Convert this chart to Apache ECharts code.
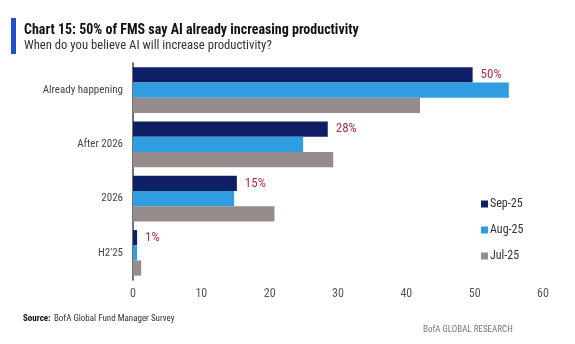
<!DOCTYPE html>
<html><head><meta charset="utf-8">
<script src="https://cdn.jsdelivr.net/npm/echarts@6/dist/echarts.min.js"></script>
<style>html,body{margin:0;padding:0;background:#fff}#c{width:575px;height:344px}</style>
</head><body><div id="c"></div>
<script>
const categories = ["Already happening", "After 2026", "2026", "H2'25"];
const seriesNames = ["Sep-25", "Aug-25", "Jul-25"];
const sep25 = [49.7, 28.5, 15.2, 0.6];
const aug25 = [55, 24.9, 14.8, 0.6];
const jul25 = [42, 29.3, 20.7, 1.2];
const sepLabels = ["50%", "28%", "15%", "1%"];
const xTicks = [0, 10, 20, 30, 40, 50, 60];

const FF = "'Roboto Condensed', Roboto, sans-serif";
const colors = ["#0e1f66", "#2f9ddf", "#958b8b"];
const chart = echarts.init(document.getElementById('c'));
const mk = (name, data, color, withLabel) => ({
  name, type: 'bar', data, barGap: '0%', barCategoryGap: '16%',
  itemStyle: { color },
  label: withLabel ? {
    show: true, position: 'right', distance: 8,
    formatter: p => sepLabels[p.dataIndex],
    color: '#b3304e', fontSize: 13, fontFamily: FF
  } : { show: false },
  animation: false
});
chart.setOption({
  animation: false,
  graphic: [
    { type: 'rect', shape: { x: 11, y: 18, width: 5, height: 36 }, style: { fill: '#2350c8' } },
    { type: 'text', left: 24, top: 23, style: { text: 'Chart 15: 50% of FMS say AI already increasing productivity', font: "bold 14px " + FF, fill: '#111' } },
    { type: 'text', left: 24, top: 39, style: { text: 'When do you believe AI will increase productivity?', font: "12.7px " + FF, fill: '#333' } },
    { type: 'text', left: 23, top: 313, style: { rich: { b: { fontWeight: 'bold', fontSize: 9, fontFamily: FF, fill: '#111' }, n: { fontSize: 9, fontFamily: FF, fill: '#333' } }, text: '{b|Source:} {n|BofA Global Fund Manager Survey}' } },
    { type: 'text', left: 423, top: 325, style: { text: 'BofA GLOBAL RESEARCH', font: "9px " + FF, fill: '#777' } }
  ],
  grid: { left: 133, right: 32, top: 63, bottom: 64, containLabel: false },
  legend: {
    data: seriesNames, orient: 'vertical', left: 476, top: 193, itemGap: 14,
    itemWidth: 7, itemHeight: 7, icon: 'rect',
    textStyle: { color: '#333', fontSize: 12, fontFamily: FF, padding: [0, 0, 0, -3] }
  },
  xAxis: {
    type: 'value', min: 0, max: 60, interval: 10,
    axisLine: { show: false }, axisTick: { show: false }, splitLine: { show: false },
    axisLabel: { color: '#555', fontSize: 12, fontFamily: FF, margin: 8,
      formatter: v => xTicks.includes(v) ? String(v) : '' }
  },
  yAxis: {
    type: 'category', data: categories, inverse: true,
    axisLine: { show: true, lineStyle: { color: '#444', width: 1.5 } },
    axisTick: { show: false },
    axisLabel: { color: '#444', fontSize: 11, fontFamily: FF, margin: 10 }
  },
  series: [
    mk(seriesNames[0], sep25, colors[0], true),
    mk(seriesNames[1], aug25, colors[1], false),
    mk(seriesNames[2], jul25, colors[2], false)
  ]
});
</script></body></html>
